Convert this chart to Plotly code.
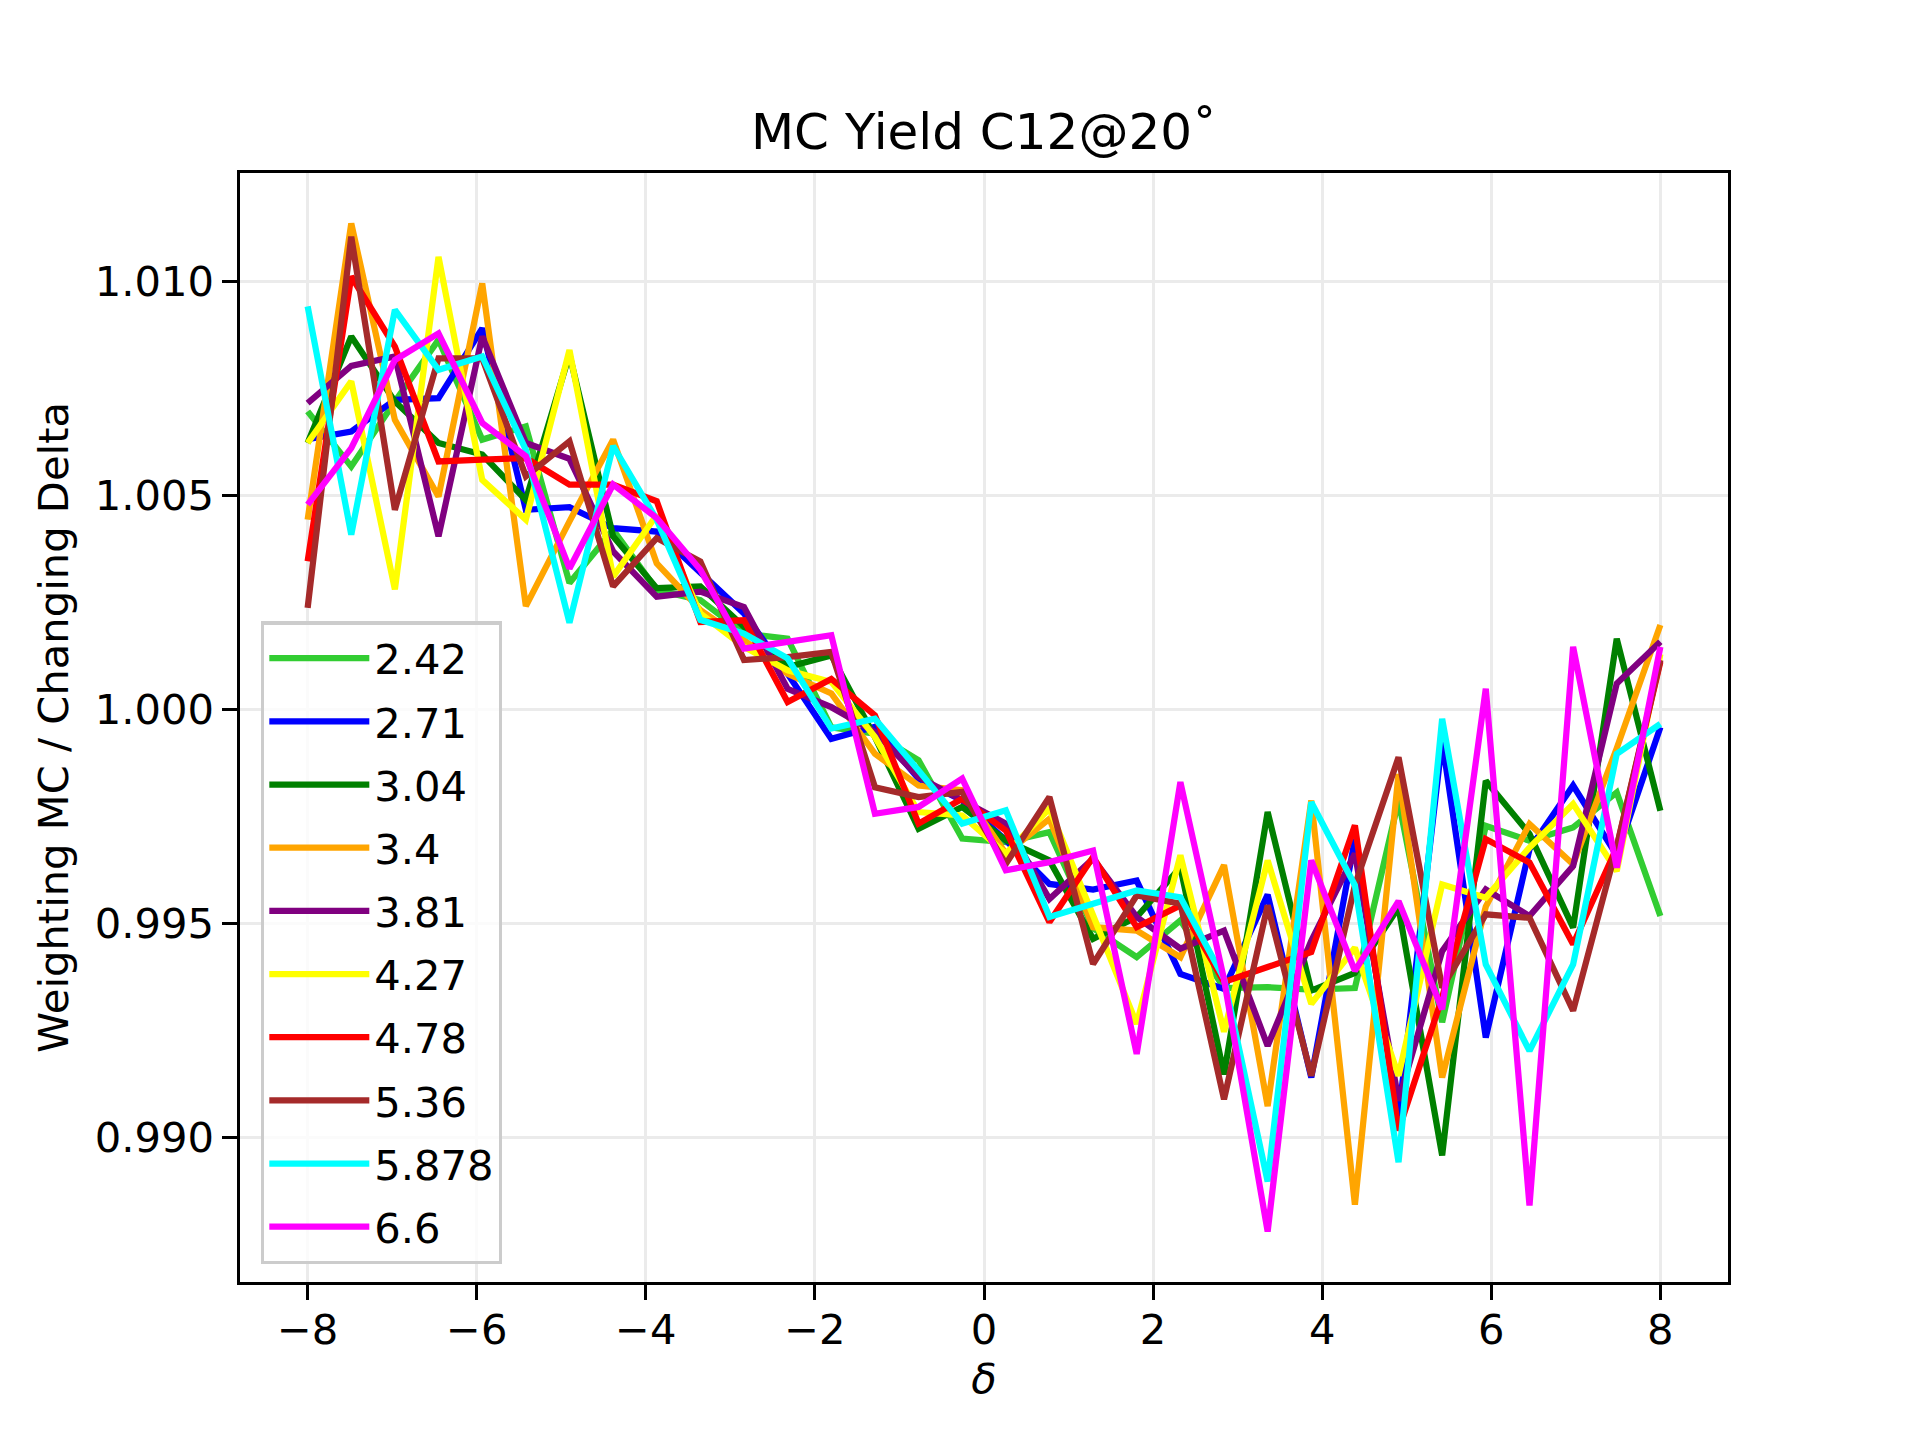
import plotly.graph_objects as go

# delta positions (32 bins from -8 to 8)
delta = [-8.0, -7.484, -6.968, -6.452, -5.935, -5.419, -4.903, -4.387,
         -3.871, -3.355, -2.839, -2.323, -1.806, -1.290, -0.774, -0.258,
         0.258, 0.774, 1.290, 1.806, 2.323, 2.839, 3.355, 3.871,
         4.387, 4.903, 5.419, 5.935, 6.452, 6.968, 7.484, 8.0]

labels = ["2.42", "2.71", "3.04", "3.4", "3.81", "4.27", "4.78", "5.36", "5.878", "6.6"]
colors = ["limegreen", "blue", "green", "orange", "purple", "yellow", "red", "brown", "cyan", "magenta"]

y_242 = [1.00697, 1.00568, 1.00720, 1.00864, 1.00631, 1.00662, 1.00296, 1.00420,
         1.00280, 1.00256, 1.00178, 1.00166, 0.99959, 0.99944, 0.99882, 0.99699,
         0.99691, 0.99714, 0.99490, 0.99422, 0.99508, 0.99350, 0.99352, 0.99346,
         0.99350, 0.99788, 0.99270, 0.99729, 0.99694, 0.99725, 0.99807, 0.99518]
y_271 = [1.00632, 1.00650, 1.00724, 1.00728, 1.00891, 1.00467, 1.00473, 1.00424,
         1.00416, 1.00320, 1.00225, 1.00084, 0.99932, 0.99960, 0.99839, 0.99788,
         0.99695, 0.99593, 0.99580, 0.99601, 0.99383, 0.99348, 0.99568, 0.99141,
         0.99698, 0.99050, 0.99928, 0.99234, 0.99674, 0.99823, 0.99660, 0.99959]
y_304 = [1.00623, 1.00872, 1.00720, 1.00623, 1.00596, 1.00490, 1.00830, 1.00405,
         1.00284, 1.00288, 1.00194, 1.00100, 1.00127, 0.99936, 0.99722, 0.99773,
         0.99695, 0.99648, 0.99465, 0.99516, 0.99632, 0.99148, 0.99761, 0.99344,
         0.99385, 0.99538, 0.98959, 0.99834, 0.99710, 0.99491, 1.00166, 0.99764]
y_340 = [1.00444, 1.01136, 1.00677, 1.00498, 1.00996, 1.00242, 1.00440, 1.00631,
         1.00342, 1.00233, 1.00163, 1.00084, 1.00038, 0.99897, 0.99823, 0.99812,
         0.99664, 0.99745, 0.99492, 0.99484, 0.99422, 0.99637, 0.99074, 0.99788,
         0.98844, 0.99850, 0.99141, 0.99540, 0.99733, 0.99639, 0.99910, 1.00198]
y_381 = [1.00716, 1.00803, 1.00825, 1.00405, 1.00872, 1.00623, 1.00586, 1.00370,
         1.00264, 1.00276, 1.00240, 1.00049, 1.00006, 0.99948, 0.99843, 0.99788,
         0.99734, 0.99558, 0.99652, 0.99516, 0.99442, 0.99484, 0.99215, 0.99460,
         0.99664, 0.99087, 0.99436, 0.99580, 0.99518, 0.99635, 1.00061, 1.00159]
y_427 = [1.00623, 1.00767, 1.00281, 1.01058, 1.00537, 1.00444, 1.00840, 1.00311,
         1.00455, 1.00225, 1.00147, 1.00092, 1.00065, 0.99936, 0.99761, 0.99753,
         0.99664, 0.99769, 0.99520, 0.99266, 0.99660, 0.99248, 0.99648, 0.99313,
         0.99444, 0.99145, 0.99592, 0.99561, 0.99678, 0.99780, 0.99623, 1.00130]
y_478 = [1.00347, 1.01012, 1.00848, 1.00580, 1.00584, 1.00588, 1.00526, 1.00526,
         1.00487, 1.00205, 1.00209, 1.00018, 1.00072, 0.99987, 0.99734, 0.99792,
         0.99718, 0.99504, 0.99656, 0.99492, 0.99543, 0.99364, 0.99399, 0.99434,
         0.99730, 0.99017, 0.99328, 0.99698, 0.99643, 0.99452, 0.99678, 1.00112]
y_536 = [1.00238, 1.01105, 1.00467, 1.00821, 1.00821, 1.00545, 1.00627, 1.00288,
         1.00401, 1.00346, 1.00116, 1.00123, 1.00135, 0.99819, 0.99796, 0.99808,
         0.99640, 0.99796, 0.99406, 0.99566, 0.99547, 0.99090, 0.99543, 0.99145,
         0.99590, 0.99889, 0.99351, 0.99522, 0.99514, 0.99297, 0.99680, 1.00116]
y_5878 = [1.00942, 1.00409, 1.00934, 1.00794, 1.00825, 1.00607, 1.00203, 1.00616,
          1.00444, 1.00210, 1.00178, 1.00120, 0.99956, 0.99979, 0.99858, 0.99734,
          0.99765, 0.99516, 0.99547, 0.99578, 0.99562, 0.99372, 0.98898, 0.99784,
          0.99590, 0.98943, 0.99979, 0.99405, 0.99203, 0.99405, 0.99897, 0.99967]
y_66 = [1.00479, 1.00611, 1.00817, 1.00879, 1.00670, 1.00592, 1.00330, 1.00526,
        1.00448, 1.00327, 1.00143, 1.00159, 1.00174, 0.99757, 0.99773, 0.99839,
        0.99625, 0.99644, 0.99671, 0.99196, 0.99831, 0.99370, 0.98781, 0.99648,
        0.99390, 0.99553, 0.99300, 1.00049, 0.98842, 1.00147, 0.99631, 1.00147]

series = [y_242, y_271, y_304, y_340, y_381, y_427, y_478, y_536, y_5878, y_66]

x_ticks = [-8, -6, -4, -2, 0, 2, 4, 6, 8]
y_ticks = [0.990, 0.995, 1.000, 1.005, 1.010]

PT = 300 / 72.0
FONT = "DejaVu Sans, Liberation Sans, sans-serif"
fs = 10 * PT

fig = go.Figure()
for lab, col, ys in zip(labels, colors, series):
    fig.add_trace(go.Scatter(x=delta, y=ys, mode="lines", name=lab,
                             legendgroup=lab,
                             line=dict(color=col, width=1.5 * PT)))

# matplotlib-like 5% margins
xmin, xmax = min(delta), max(delta)
all_y = [v for s in series for v in s]
ymin, ymax = min(all_y), max(all_y)
dx = (xmax - xmin) * 0.05
dy = (ymax - ymin) * 0.05

W, H = 1920, 1440
OFF = 8  # page body margin
ml, mr, mt, mb = 240 - OFF, 192 + OFF, 172.8 - OFF, 158.4 + OFF

axis_common = dict(
    showline=True, linecolor="black", linewidth=0.8 * PT, mirror=True,
    ticks="outside", ticklen=3.5 * PT, tickwidth=0.8 * PT, tickcolor="black",
    showgrid=True, gridcolor="#ebebeb", gridwidth=0.8 * PT,
    zeroline=False,
    tickfont=dict(family=FONT, size=fs, color="black"),
)

fig.update_layout(
    width=W, height=H,
    margin=dict(l=ml, r=mr, t=mt, b=mb, pad=0),
    paper_bgcolor="white", plot_bgcolor="white",
    font=dict(family=FONT, size=fs, color="black"),
    title=dict(text="MC Yield C12@20˚", x=0.5, xref="paper",
               y=1 - (131 - OFF) / H, yref="container", yanchor="middle", xanchor="center",
               font=dict(family=FONT, size=12 * PT, color="black")),
    xaxis=dict(range=[xmin - dx, xmax + dx], tickvals=x_ticks,
               ticktext=[("\u2212" + str(-t)) if t < 0 else str(t) for t in x_ticks],
               ticklabelstandoff=-6,
               title=dict(text="<i>δ</i>", standoff=6,
                          font=dict(family=FONT, size=fs, color="black")),
               **axis_common),
    yaxis=dict(range=[ymin - dy, ymax + dy], tickvals=y_ticks,
               ticktext=[f"{t:.3f}" for t in y_ticks],
               title=dict(text="Weighting MC / Changing Delta", standoff=14,
                          font=dict(family=FONT, size=fs, color="black")),
               **axis_common),
    legend=dict(x=0.0141, y=0.5958, xanchor="left", yanchor="top",
                bgcolor="rgba(255,255,255,0.8)", bordercolor="#cccccc",
                borderwidth=0.8 * PT,
                font=dict(family=FONT, size=fs, color="black"),
                tracegroupgap=6, itemwidth=100),
    showlegend=True,
)

fig.write_html("out.html")
